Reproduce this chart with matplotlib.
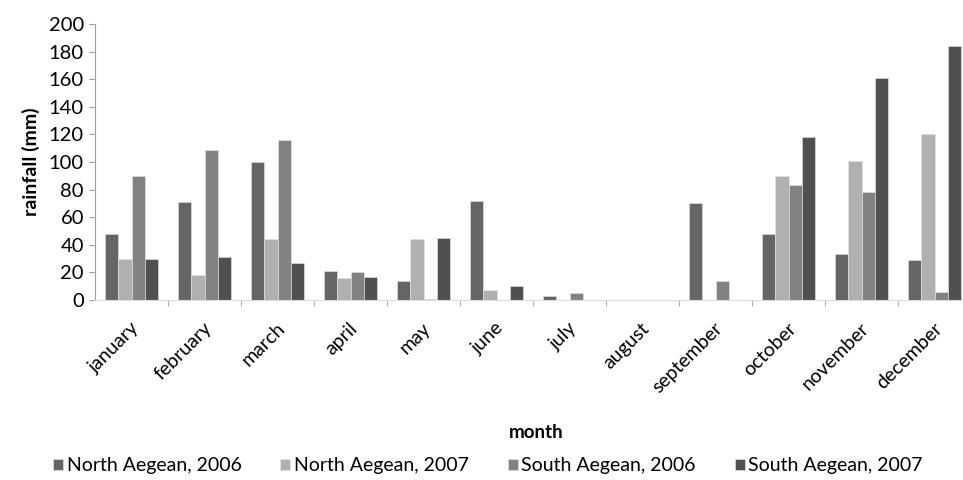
import matplotlib.pyplot as plt
import numpy as np

plt.rcParams['font.family'] = ['Lato', 'DejaVu Sans']

# Monthly rainfall (mm)
months = ["january", "february", "march", "april", "may", "june", "july",
          "august", "september", "october", "november", "december"]
north_2006 = [48, 71, 100, 21, 14, 72, 3, 0, 70, 48, 33, 29]
north_2007 = [30, 18, 44, 16, 44, 7, 0, 0, 0, 90, 101, 120]
south_2006 = [90, 109, 116, 20, 1, 0, 5, 0, 14, 83, 78, 6]
south_2007 = [30, 31, 27, 17, 45, 10, 0, 0, 0, 118, 161, 184]

series = [
    ("North Aegean, 2006", north_2006, "#656565"),
    ("North Aegean, 2007", north_2007, "#b0b0b0"),
    ("South Aegean, 2006", south_2006, "#828282"),
    ("South Aegean, 2007", south_2007, "#505050"),
]

fig = plt.figure(figsize=(9.63, 4.8), dpi=100)
ax = fig.add_axes([95 / 963, 180 / 480, 876 / 963, 276 / 480])

x = np.arange(len(months))
width = 0.18
for i, (name, vals, col) in enumerate(series):
    ax.bar(x + (i - 1.5) * width, vals, width, color=col, label=name,
           edgecolor="#e6e6e6", linewidth=0.4)

ax.set_xlim(-0.5, len(months) - 0.5)
ax.set_ylim(0, 200)
ax.set_yticks(np.arange(0, 201, 20))
ax.tick_params(axis="y", labelsize=14.5, length=4, color="#a0a0a0", pad=4)

# category ticks sit on the boundaries between months
ax.set_xticks(np.arange(0.5, len(months) - 0.5, 1))
ax.set_xticklabels([])
ax.tick_params(axis="x", length=4, color="#b0b0b0", direction="out")
for xi, m in zip(x, months):
    ax.text(xi - 0.02, -14, m, rotation=45, ha="right", va="top",
            rotation_mode="anchor", fontsize=14)

for side in ["top", "right"]:
    ax.spines[side].set_visible(False)
ax.spines["left"].set_color("#a0a0a0")
ax.spines["bottom"].set_color("#dddddd")

ax.set_ylabel("rainfall (mm)", fontsize=14, fontweight="bold", labelpad=6)
fig.text(536 / 963, 1 - 433 / 480, "month", fontsize=13.5, fontweight="bold",
         ha="center", va="center")

fig.legend(loc="center", bbox_to_anchor=(488 / 963, 1 - 466 / 480), ncol=4,
           frameon=False, fontsize=14, handlelength=0.5, handleheight=0.5,
           handletextpad=0.2, columnspacing=2.0)

fig.savefig("out.png", dpi=100)
